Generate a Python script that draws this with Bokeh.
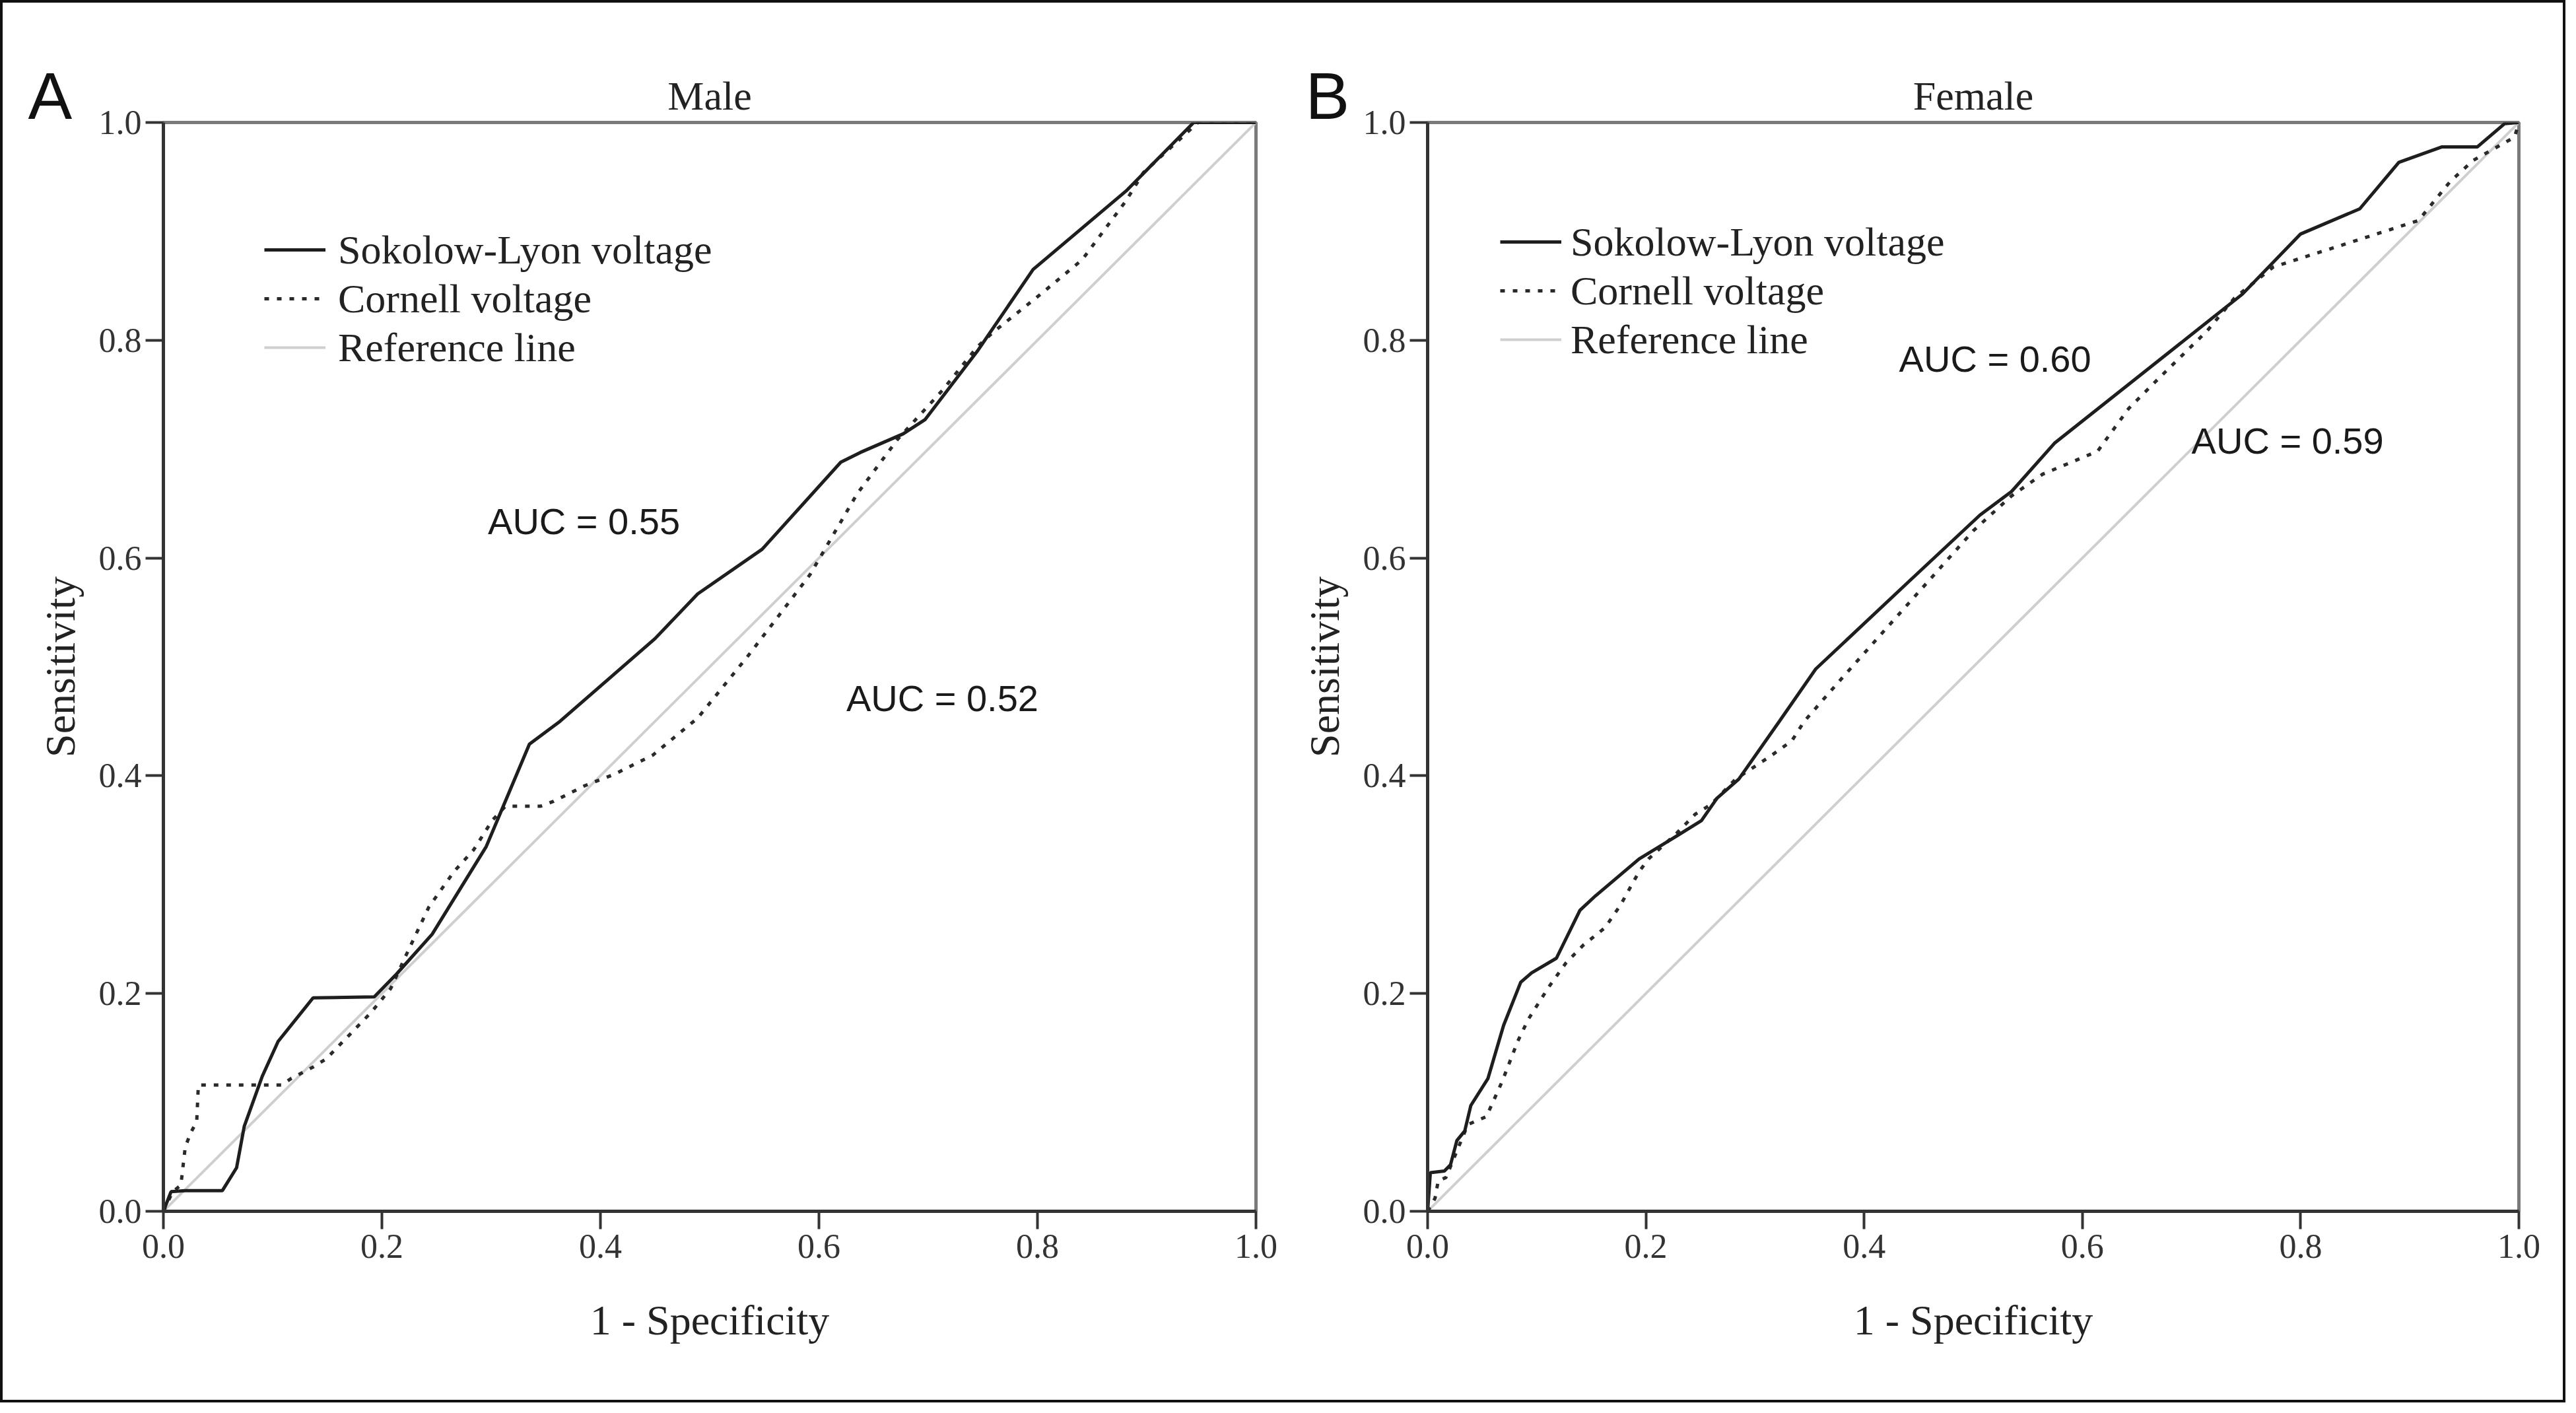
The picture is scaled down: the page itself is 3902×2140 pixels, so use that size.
from bokeh.plotting import figure
from bokeh.models import Range1d, FixedTicker, NumeralTickFormatter, Label, Legend, LegendItem, Title
from bokeh.layouts import row
from bokeh.embed import file_html
from bokeh.resources import INLINE

SERIF = "Liberation Serif"
SANS = "Liberation Sans"

# ---------------- data ----------------
tick_values = [0.0, 0.2, 0.4, 0.6, 0.8, 1.0]
x_axis_label = "1 - Specificity"
y_axis_label = "Sensitivity"
series_names = ["Sokolow-Lyon voltage", "Cornell voltage", "Reference line"]

panel_letters = ["A", "B"]
panel_titles = ["Male", "Female"]
auc_texts_male = ["AUC = 0.55", "AUC = 0.52"]
auc_texts_female = ["AUC = 0.60", "AUC = 0.59"]

reference_x = [0.0, 1.0]
reference_y = [0.0, 1.0]

male_sl_fpr = [0.0, 0.007, 0.020, 0.054, 0.067, 0.074, 0.0905, 0.105, 0.137, 0.193, 0.2135,
               0.246, 0.2955, 0.335, 0.363, 0.450, 0.489, 0.548, 0.620, 0.638, 0.677, 0.697,
               0.745, 0.796, 0.881, 0.943, 1.0]
male_sl_tpr = [0.0, 0.018, 0.019, 0.019, 0.040, 0.078, 0.124, 0.156, 0.196, 0.197, 0.218,
               0.2545, 0.335, 0.429, 0.450, 0.526, 0.567, 0.608, 0.688, 0.697, 0.714, 0.727,
               0.790, 0.865, 0.937, 1.0, 1.0]

male_cv_fpr = [0.0, 0.0085, 0.016, 0.020, 0.025, 0.0305, 0.032, 0.108, 0.117, 0.137, 0.149,
               0.190, 0.208, 0.222, 0.243, 0.266, 0.284, 0.301, 0.313, 0.345, 0.357, 0.386,
               0.413, 0.448, 0.489, 0.535, 0.567, 0.592, 0.610, 0.635, 0.672, 0.713, 0.745,
               0.759, 0.805, 0.841, 0.881, 0.897, 0.947, 1.0]
male_cv_tpr = [0.0, 0.018, 0.024, 0.059, 0.072, 0.0825, 0.116, 0.116, 0.122, 0.1325, 0.140,
               0.1825, 0.2045, 0.235, 0.2795, 0.312, 0.332, 0.359, 0.372, 0.372, 0.3765, 0.391,
               0.4015, 0.419, 0.453, 0.510, 0.552, 0.585, 0.616, 0.659, 0.709, 0.754, 0.794,
               0.807, 0.844, 0.874, 0.928, 0.954, 1.0, 1.0]

female_sl_fpr = [0.0, 0.0025, 0.0154, 0.021, 0.0268, 0.034, 0.0396, 0.0553, 0.0696, 0.0853,
                 0.0953, 0.118, 0.1396, 0.1538, 0.1938, 0.2223, 0.2509, 0.2652, 0.2852, 0.3223,
                 0.3556, 0.4416, 0.5062, 0.535, 0.5744, 0.7467, 0.800, 0.8542, 0.890, 0.9296,
                 0.962, 0.987, 1.0]
female_sl_tpr = [0.0, 0.0355, 0.037, 0.0428, 0.065, 0.0737, 0.0972, 0.122, 0.1707, 0.2104,
                 0.219, 0.2324, 0.2765, 0.2897, 0.3236, 0.341, 0.3588, 0.3794, 0.397, 0.45,
                 0.498, 0.579, 0.6395, 0.661, 0.7054, 0.8424, 0.8976, 0.9207, 0.9634, 0.9776,
                 0.9776, 0.999, 1.0]

female_cv_fpr = [0.0, 0.0068, 0.0097, 0.0168, 0.0368, 0.0539, 0.0682, 0.0825, 0.0924, 0.111,
                 0.1267, 0.1424, 0.1624, 0.1766, 0.1938, 0.2024, 0.228, 0.2452, 0.2595, 0.2823,
                 0.3137, 0.3337, 0.3451, 0.38, 0.42, 0.46, 0.50, 0.535, 0.5636, 0.6139, 0.6425,
                 0.671, 0.7143, 0.7394, 0.775, 0.8363, 0.908, 0.9368, 0.958, 0.996, 1.0]
female_cv_tpr = [0.0, 0.012, 0.028, 0.031, 0.0796, 0.087, 0.119, 0.156, 0.1766, 0.206,
                 0.228, 0.2442, 0.2603, 0.281, 0.312, 0.3236, 0.347, 0.3647, 0.3735, 0.397,
                 0.4177, 0.432, 0.45, 0.49, 0.535, 0.58, 0.625, 0.657, 0.677, 0.698, 0.7374,
                 0.766, 0.8086, 0.8388, 0.8673, 0.8869, 0.910, 0.9455, 0.9651, 0.9865, 1.0]

# annotation anchor positions (data units)
auc_pos_male = [(0.297, 0.634), (0.625, 0.471)]
auc_pos_female = [(0.432, 0.783), (0.700, 0.708)]


def make_panel(letter, title, sl_x, sl_y, cv_x, cv_y, auc_texts, auc_pos,
               frame_w, border_left, border_right, legend_loc, label_standoff, letter_dx):
    p = figure(frame_width=frame_w, frame_height=1649,
               min_border_left=border_left, min_border_right=border_right,
               min_border_top=181, min_border_bottom=286,
               x_range=Range1d(0, 1), y_range=Range1d(0, 1),
               output_backend="svg", toolbar_location=None)
    p.background_fill_color = "white"
    p.border_fill_color = "white"
    p.grid.visible = False
    p.outline_line_color = "#7a7a7a"
    p.outline_line_width = 5

    r_ref = p.line(reference_x, reference_y, line_color="#cfcfcf", line_width=4)
    r_cv = p.line(cv_x, cv_y, line_color="#2a2a2a", line_width=5, line_dash="7 12")
    r_sl = p.line(sl_x, sl_y, line_color="#1e1e1e", line_width=5)

    for ax in (p.xaxis[0], p.yaxis[0]):
        ax.ticker = FixedTicker(ticks=tick_values)
        ax.formatter = NumeralTickFormatter(format="0.0")
        ax.major_tick_out = 27
        ax.major_tick_in = 0
        ax.minor_tick_out = 0
        ax.minor_tick_in = 0
        ax.axis_line_width = 5
        ax.axis_line_color = "#333333"
        ax.major_tick_line_width = 4
        ax.major_tick_line_color = "#333333"
        ax.major_label_text_font = SERIF
        ax.major_label_text_font_size = "52px"
        ax.major_label_text_color = "#333333"
        ax.axis_label_text_font = SERIF
        ax.axis_label_text_font_size = "64px"
        ax.axis_label_text_font_style = "normal"
        ax.axis_label_text_color = "#222222"
    p.xaxis.axis_label = x_axis_label
    p.yaxis.axis_label = y_axis_label
    p.xaxis.major_label_standoff = 8
    p.yaxis.major_label_standoff = 6
    p.xaxis.axis_label_standoff = 56
    p.yaxis.axis_label_standoff = 20

    legend = Legend(items=[LegendItem(label=series_names[0], renderers=[r_sl]),
                           LegendItem(label=series_names[1], renderers=[r_cv]),
                           LegendItem(label=series_names[2], renderers=[r_ref])],
                    location=legend_loc, glyph_width=93, glyph_height=74, label_height=74,
                    label_standoff=label_standoff, spacing=0, padding=0, margin=0,
                    border_line_alpha=0, background_fill_alpha=0,
                    label_text_font=SERIF, label_text_font_size="62px",
                    label_text_color="#222222")
    p.add_layout(legend)

    p.add_layout(Title(text=title, align="center", vertical_align="bottom", standoff=13,
                       text_font=SERIF, text_font_size="62px", text_font_style="normal",
                       text_color="#222222"), "above")
    p.add_layout(Title(text=letter, align="left", vertical_align="bottom", offset=letter_dx,
                       standoff=-197, text_font=SANS, text_font_size="100px",
                       text_font_style="normal", text_color="#111111"), "above")
    for txt, (tx, ty) in zip(auc_texts, auc_pos):
        p.add_layout(Label(x=tx, y=ty, text=txt, text_align="left", text_baseline="middle",
                           text_font=SANS, text_font_size="56px", text_color="#1a1a1a"))
    return p


pA = make_panel(panel_letters[0], panel_titles[0], male_sl_fpr, male_sl_tpr,
                male_cv_fpr, male_cv_tpr, auc_texts_male, auc_pos_male,
                frame_w=1655, border_left=243, border_right=41,
                legend_loc=(153, 1271), label_standoff=19, letter_dx=-205)
pB = make_panel(panel_letters[1], panel_titles[1], female_sl_fpr, female_sl_tpr,
                female_cv_fpr, female_cv_tpr, auc_texts_female, auc_pos_female,
                frame_w=1653, border_left=219, border_right=67,
                legend_loc=(110, 1283), label_standoff=14, letter_dx=-185)

layout = row(pA, pB, styles={"border": "4px solid #111111"})

with open("out.html", "w") as f:
    f.write(file_html(layout, INLINE))
